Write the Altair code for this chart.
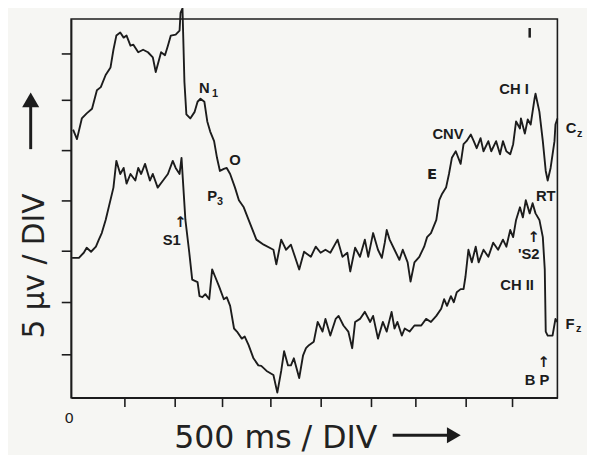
import altair as alt
import pandas as pd

# Upper trace (CH I, Cz) in DIV units (x: 500 ms/DIV, y: 5 uV/DIV)
upper_x = [0.04, 0.12, 0.22, 0.32, 0.43, 0.53, 0.61, 0.71, 0.81, 0.87, 0.93, 1.01, 1.08, 1.14, 1.22, 1.28,
           1.38, 1.48, 1.58, 1.68, 1.74, 1.85, 1.93, 1.99, 2.05, 2.15, 2.23, 2.25, 2.29, 2.33, 2.37, 2.45,
           2.54, 2.60, 2.66, 2.74, 2.80, 2.86, 2.94, 3.00, 3.06, 3.14, 3.20, 3.27, 3.37, 3.45, 3.55, 3.65,
           3.81, 3.96, 4.16, 4.22, 4.32, 4.42, 4.52, 4.69, 4.79, 4.93, 5.03, 5.13, 5.23, 5.33, 5.48, 5.58,
           5.68, 5.74, 5.84, 5.94, 6.04, 6.11, 6.21, 6.31, 6.39, 6.45, 6.49, 6.55, 6.65, 6.75, 6.82, 6.92,
           6.98, 7.06, 7.16, 7.26, 7.32, 7.40, 7.51, 7.57, 7.63, 7.71, 7.77, 7.83, 7.91, 8.01, 8.07, 8.13,
           8.22, 8.28, 8.34, 8.42, 8.48, 8.58, 8.64, 8.74, 8.82, 8.88, 8.95, 9.03, 9.09, 9.15, 9.23, 9.25,
           9.33, 9.39, 9.45, 9.53, 9.55, 9.63, 9.70, 9.76, 9.80, 9.86, 9.94, 9.96, 10.00]
upper_y = [5.31, 5.12, 5.53, 5.63, 5.72, 6.09, 6.15, 6.39, 6.54, 6.89, 7.17, 7.23, 7.13, 7.17, 6.97, 6.99,
           6.84, 6.89, 6.84, 6.74, 6.45, 6.84, 6.78, 6.97, 7.17, 7.19, 7.27, 7.62, 7.71, 6.25, 5.61, 5.53,
           5.66, 5.86, 5.92, 5.86, 5.47, 5.27, 5.08, 4.75, 4.49, 4.53, 4.55, 4.43, 4.16, 3.91, 3.77, 3.52,
           3.13, 3.03, 2.93, 2.64, 3.13, 2.93, 3.03, 2.54, 2.89, 2.79, 2.99, 2.87, 2.93, 2.87, 3.13, 2.79,
           2.87, 2.50, 2.97, 2.79, 3.13, 2.79, 3.26, 2.93, 2.77, 3.07, 3.32, 3.13, 2.93, 2.73, 2.93, 2.68,
           2.30, 2.68, 2.79, 2.99, 3.18, 3.26, 3.52, 3.91, 4.04, 4.16, 4.43, 4.75, 4.88, 4.63, 5.02, 5.08,
           5.21, 5.08, 4.94, 5.14, 4.88, 5.08, 4.88, 5.08, 4.82, 5.08, 4.88, 4.82, 5.02, 5.47, 5.33, 5.53,
           5.23, 5.51, 5.41, 5.92, 6.02, 5.66, 5.08, 4.49, 4.30, 4.55, 5.08, 5.41, 5.53]

# Lower trace (CH II, Fz)
lower_x = [0.02, 0.16, 0.26, 0.32, 0.41, 0.51, 0.57, 0.63, 0.71, 0.87, 0.93, 1.01, 1.08, 1.14, 1.22, 1.32,
           1.38, 1.44, 1.52, 1.62, 1.68, 1.78, 1.89, 1.99, 2.09, 2.15, 2.23, 2.27, 2.35, 2.43, 2.49, 2.60,
           2.64, 2.70, 2.76, 2.84, 2.90, 2.96, 3.04, 3.14, 3.20, 3.27, 3.35, 3.41, 3.51, 3.57, 3.65, 3.75,
           3.85, 3.91, 4.02, 4.16, 4.24, 4.32, 4.38, 4.46, 4.52, 4.58, 4.69, 4.77, 4.83, 4.89, 4.99, 5.07,
           5.17, 5.23, 5.33, 5.44, 5.50, 5.60, 5.70, 5.78, 5.84, 5.94, 6.04, 6.15, 6.21, 6.31, 6.41, 6.49,
           6.59, 6.65, 6.71, 6.80, 6.86, 6.96, 7.06, 7.20, 7.30, 7.40, 7.51, 7.61, 7.67, 7.73, 7.81, 7.87,
           7.93, 8.01, 8.07, 8.11, 8.17, 8.24, 8.32, 8.38, 8.48, 8.58, 8.68, 8.78, 8.88, 8.95, 9.03, 9.09,
           9.15, 9.23, 9.29, 9.35, 9.43, 9.49, 9.55, 9.63, 9.70, 9.74, 9.76, 9.80, 9.90, 9.96, 10.00]
lower_y = [2.77, 2.77, 2.87, 2.97, 2.89, 2.99, 3.13, 3.26, 3.52, 4.16, 4.69, 4.43, 4.55, 4.24, 4.43, 4.30,
           4.55, 4.43, 4.63, 4.30, 4.43, 4.16, 4.30, 4.43, 4.69, 4.55, 4.43, 4.75, 3.52, 2.87, 2.34, 2.29,
           2.01, 1.99, 2.05, 1.95, 2.54, 2.40, 2.21, 1.95, 1.99, 1.82, 1.37, 1.31, 1.17, 1.21, 1.04, 0.78,
           0.64, 0.63, 0.53, 0.45, 0.10, 0.53, 0.92, 0.64, 0.64, 0.78, 0.39, 0.84, 0.98, 1.04, 1.11, 1.50,
           1.31, 1.56, 1.23, 1.56, 1.62, 1.43, 1.31, 0.98, 1.50, 1.56, 1.70, 1.50, 1.62, 1.17, 1.50, 1.31,
           1.70, 1.37, 1.50, 1.23, 1.37, 1.31, 1.43, 1.43, 1.56, 1.50, 1.62, 1.76, 1.95, 1.82, 2.01, 1.89,
           2.09, 2.15, 2.15, 2.40, 2.93, 2.68, 2.99, 2.68, 2.93, 2.79, 3.07, 2.93, 3.13, 2.99, 3.32, 3.18,
           3.52, 3.77, 3.57, 3.91, 3.65, 3.85, 3.65, 3.52, 3.18, 2.54, 1.31, 1.23, 1.23, 1.56, 1.50]

x_ticks = [1.10, 2.13, 3.10, 4.10, 5.13, 6.17, 7.08, 8.11, 9.06]
y_ticks = [0.86, 1.89, 2.91, 3.91, 4.90, 5.90, 6.82]

label_text = ["N", "O", "P", "S1", "CH I", "CNV", "C", "RT", "'S2", "CH II", "F", "B P"]
label_x = [2.74, 3.37, 2.90, 2.07, 9.11, 7.75, 10.28, 9.76, 9.41, 9.17, 10.26, 9.58]
label_y = [6.13, 4.71, 4.00, 3.13, 6.11, 5.23, 5.33, 4.00, 2.85, 2.23, 1.45, 0.35]

small_text = ["E", "↑", "↑", "↑"]
small_x = [7.42, 2.25, 9.51, 9.72]
small_y = [4.43, 3.48, 3.18, 0.70]

sub_text = ["1", "3", "z", "z"]
sub_x = [2.96, 3.06, 10.46, 10.44]
sub_y = [6.02, 3.87, 5.23, 1.35]

origin_text = ["0"]
origin_x = [-0.04]
origin_y = [-0.40]

marker_x = [9.43]
marker_y = [7.13]
marker_y2 = [7.32]

ink = "#1c1c1c"

traces = pd.concat([
    pd.DataFrame({"x": upper_x, "y": upper_y, "trace": "CH I", "i": range(len(upper_x))}),
    pd.DataFrame({"x": lower_x, "y": lower_y, "trace": "CH II", "i": range(len(lower_x))}),
])

xs = alt.Scale(domain=[0, 10], nice=False, zero=False)
ys = alt.Scale(domain=[0, 7.5], nice=False, zero=False)

lines = alt.Chart(traces).mark_line(color=ink, strokeWidth=1.9, strokeJoin="round").encode(
    x=alt.X("x:Q", scale=xs, axis=alt.Axis(
        values=x_ticks, labels=False, grid=False, ticks=True, tickSize=9, tickWidth=1.6,
        tickColor=ink, domainColor=ink, domainWidth=1.6,
        title="500 ms / DIV", titleFontSize=32, titleFont="DejaVu Sans",
        titleFontWeight="normal", titleColor="#222", titleX=207, titleY=40,
        titleAlign="center", titleBaseline="middle", titleAnchor="middle")),
    y=alt.Y("y:Q", scale=ys, axis=alt.Axis(
        values=y_ticks, labels=False, grid=False, ticks=True, tickSize=10, tickWidth=1.6,
        tickColor=ink, domainColor=ink, domainWidth=1.6,
        title="5    µv  /  DIV", titleFontSize=30, titleFont="DejaVu Sans",
        titleFontWeight="normal", titleColor="#222", titleX=-37, titleY=250,
        titleAlign="center", titleBaseline="middle", titleAngle=270)),
    detail="trace:N",
    order="i:Q",
)

def text_layer(texts, xv, yv, size, font="Liberation Sans", weight="bold"):
    df = pd.DataFrame({"t": texts, "x": xv, "y": yv})
    return alt.Chart(df).mark_text(
        font=font, fontWeight=weight, fontSize=size, color=ink
    ).encode(x=alt.X("x:Q", scale=xs), y=alt.Y("y:Q", scale=ys), text="t:N")

labels = text_layer(label_text, label_x, label_y, 15)
smalls = text_layer(small_text, small_x, small_y, 15, font="DejaVu Sans")
subs = text_layer(sub_text, sub_x, sub_y, 11)
origin = text_layer(origin_text, origin_x, origin_y, 15, font="DejaVu Sans", weight="normal")

# title arrows (decoration, in pixel space of the plot area)
arrow_df = pd.DataFrame({"k": ["a"]})
x_arrow_line = alt.Chart(arrow_df).mark_rule(color=ink, strokeWidth=3).encode(
    x=alt.value(326), x2=alt.value(386), y=alt.value(422))
x_arrow_head = alt.Chart(arrow_df).mark_point(
    shape="triangle-right", filled=True, color=ink, size=260, opacity=1
).encode(x=alt.value(388), y=alt.value(422))
y_arrow_line = alt.Chart(arrow_df).mark_rule(color=ink, strokeWidth=3).encode(
    x=alt.value(-41), y=alt.value(132), y2=alt.value(86))
y_arrow_head = alt.Chart(arrow_df).mark_point(
    shape="triangle-up", filled=True, color=ink, size=300, opacity=1
).encode(x=alt.value(-41), y=alt.value(82))

marker_df = pd.DataFrame({"x": marker_x, "y": marker_y, "y2": marker_y2})
marker = alt.Chart(marker_df).mark_rule(color=ink, strokeWidth=2.5).encode(
    x=alt.X("x:Q", scale=xs), y=alt.Y("y:Q", scale=ys), y2="y2:Q")

chart = alt.layer(lines, labels, smalls, subs, origin, x_arrow_line, x_arrow_head,
                  y_arrow_line, y_arrow_head, marker).properties(
    width=493, height=384,
    autosize="none",
    padding={"left": 64, "top": 8, "right": 30, "bottom": 55},
    background="#f6f6f3",
).configure_view(stroke=ink, strokeWidth=1.6)

chart.save("out.html", embed_options={"renderer": "svg", "actions": False})
